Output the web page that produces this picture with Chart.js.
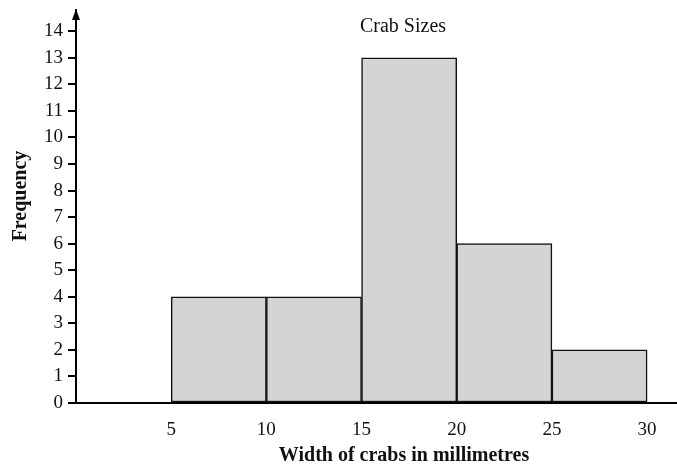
<!DOCTYPE html>
<html lang="en">
<head>
  <meta charset="UTF-8" />
  <title>Crab Sizes</title>
  <script src="https://cdn.jsdelivr.net/npm/chart.js"></script>
  <style>
    html, body { margin: 0; padding: 0; background: #fff; }
    #wrap { width: 677px; height: 468px; }
  </style>
</head>
<body>
  <div id="wrap"><canvas id="crabChart"></canvas></div>
  <script>
    // class mid-points (mm) and how many crabs fell in each 5mm class
    const classMids = [7.5, 12.5, 17.5, 22.5, 27.5];
    const frequencies = [4, 4, 13, 6, 2];
    const xTickValues = [5, 10, 15, 20, 25, 30];
    const yTickValues = [0, 1, 2, 3, 4, 5, 6, 7, 8, 9, 10, 11, 12, 13, 14];

    const chartTitle = 'Crab Sizes';
    const xTitle = 'Width of crabs in millimetres';
    const yTitle = 'Frequency';

    const serif = "'Liberation Serif', 'DejaVu Serif', serif";

    // titles + the arrow on top of the y axis
    const extras = {
      id: 'extras',
      afterDraw(chart) {
        const { ctx, chartArea } = chart;
        ctx.save();
        ctx.fillStyle = '#111';
        ctx.textAlign = 'center';
        ctx.textBaseline = 'middle';
        ctx.font = '20px ' + serif;
        ctx.fillText(chartTitle, 403, 27);
        ctx.font = 'bold 20px ' + serif;
        ctx.fillText(xTitle, 404, 456);
        ctx.translate(21, 196);
        ctx.rotate(-Math.PI / 2);
        ctx.fillText(yTitle, 0, 0);
        ctx.restore();

        // arrow head
        ctx.save();
        ctx.fillStyle = '#000';
        ctx.beginPath();
        ctx.moveTo(chartArea.left, chartArea.top - 1);
        ctx.lineTo(chartArea.left - 4, chartArea.top + 10);
        ctx.lineTo(chartArea.left + 4, chartArea.top + 10);
        ctx.closePath();
        ctx.fill();
        ctx.restore();
      }
    };

    new Chart(document.getElementById('crabChart'), {
      type: 'bar',
      data: {
        datasets: [{
          data: classMids.map((m, i) => ({ x: m, y: frequencies[i] })),
          backgroundColor: '#d4d4d4',
          borderColor: '#111',
          borderWidth: 1.5,
          borderSkipped: false,
          barPercentage: 1,
          categoryPercentage: 1,
        }]
      },
      options: {
        responsive: true,
        maintainAspectRatio: false,
        animation: false,
        layout: { padding: { top: 10, right: 0, left: 0, bottom: 0 } },
        plugins: {
          legend: { display: false },
          tooltip: { enabled: false },
        },
        scales: {
          x: {
            type: 'linear',
            offset: false,
            min: 0,
            max: 31.57,
            afterBuildTicks: s => { s.ticks = xTickValues.map(v => ({ value: v })); },
            afterFit: s => { s.height = 65; s.paddingLeft = 0; s.paddingRight = 0; },
            grid: { display: false },
            border: { display: true, color: '#000', width: 2 },
            ticks: {
              color: '#111',
              padding: 8,
              maxRotation: 0,
              font: { family: serif, size: 19 },
            },
          },
          y: {
            min: 0,
            max: 14.8,
            afterBuildTicks: s => { s.ticks = yTickValues.map(v => ({ value: v })); },
            afterFit: s => { s.width = 76; s.paddingTop = 0; s.paddingBottom = 0; },
            grid: {
              display: true,
              drawOnChartArea: false,
              drawTicks: true,
              tickLength: 8,
              color: '#000',
              lineWidth: 2,
            },
            border: { display: true, color: '#000', width: 2 },
            ticks: {
              color: '#111',
              padding: 5,
              font: { family: serif, size: 19 },
            },
          },
        },
      },
      plugins: [extras],
    });
  </script>
</body>
</html>
